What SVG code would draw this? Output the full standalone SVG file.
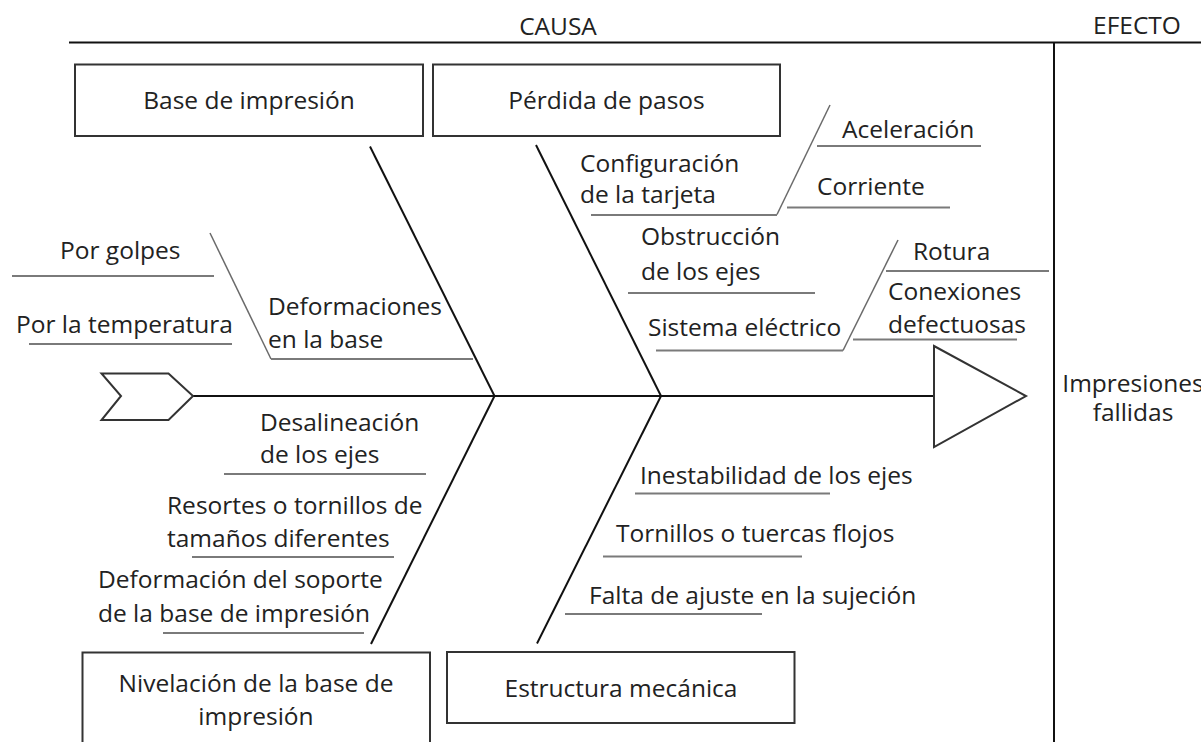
<svg xmlns="http://www.w3.org/2000/svg" width="1201" height="742" viewBox="0 0 1201 742">
<style>
text{font-family:"Open Sans","Noto Sans","DejaVu Sans",sans-serif;font-size:24.5px;fill:#222}
.c{text-anchor:middle}
.box{fill:#fff;stroke:#333;stroke-width:2}
.bone{stroke:#111;stroke-width:2;fill:none}
.sub{stroke:#6a6a6a;stroke-width:1.5;fill:none}
.ul{stroke:#7a7a7a;stroke-width:2;fill:none}
.frame{stroke:#111;stroke-width:2;fill:none}
</style>
<rect width="1201" height="742" fill="#fff"/>
<g id="frame">
<line class="frame" x1="69" y1="42.5" x2="1201" y2="42.5"/>
<line class="frame" x1="1054" y1="42" x2="1054" y2="742"/>
<text class="c" x="558" y="35">CAUSA</text>
<text class="c" x="1137" y="34">EFECTO</text>
</g>
<g id="connectors">
<line class="bone" x1="193" y1="396" x2="934" y2="396"/>
<line class="bone" x1="370" y1="146.5" x2="494.5" y2="396"/>
<line class="bone" x1="536" y1="145" x2="661" y2="396"/>
<line class="bone" x1="494.5" y1="396" x2="371" y2="644"/>
<line class="bone" x1="661" y1="396" x2="537" y2="643.5"/>
<line class="sub" x1="830" y1="105" x2="777" y2="214.5"/>
<line class="sub" x1="898" y1="240" x2="843" y2="350.5"/>
<line class="sub" x1="210" y1="233" x2="271" y2="359"/>
<line class="ul" x1="817" y1="146" x2="981" y2="146"/>
<line class="ul" x1="591" y1="215" x2="777" y2="215"/>
<line class="ul" x1="787" y1="207.5" x2="950" y2="207.5"/>
<line class="ul" x1="628" y1="293" x2="815" y2="293"/>
<line class="ul" x1="656" y1="350.5" x2="843" y2="350.5"/>
<line class="ul" x1="886" y1="271" x2="1049" y2="271"/>
<line class="ul" x1="853" y1="339.5" x2="1017" y2="339.5"/>
<line class="ul" x1="12" y1="276" x2="214" y2="276"/>
<line class="ul" x1="29" y1="344" x2="232" y2="344"/>
<line class="ul" x1="271" y1="359" x2="473" y2="359"/>
<line class="ul" x1="224" y1="474" x2="426" y2="474"/>
<line class="ul" x1="192" y1="557" x2="394" y2="557"/>
<line class="ul" x1="163" y1="633" x2="364" y2="633"/>
<line class="ul" x1="635" y1="493.5" x2="830" y2="493.5"/>
<line class="ul" x1="603" y1="556.5" x2="802" y2="556.5"/>
<line class="ul" x1="565" y1="614" x2="762" y2="614"/>
</g>
<g id="tail"><polygon class="box" points="101.5,373.5 168.5,373.5 193,396 168.5,420 101.5,420 121,396" stroke="#111"/></g>
<g id="head"><polygon class="box" points="934,346 1026,396 934,447" stroke="#111"/></g>
<g id="n-base"><rect class="box" x="75" y="64.5" width="348" height="71.5"/><text class="c" x="249" y="109">Base de impresión</text></g>
<g id="n-perdida"><rect class="box" x="433" y="64.5" width="347" height="71.5"/><text class="c" x="606.5" y="109">Pérdida de pasos</text></g>
<g id="n-nivelacion"><rect class="box" x="82.5" y="652.5" width="347.5" height="100"/><text class="c" x="256" y="692">Nivelación de la base de</text><text class="c" x="256" y="725">impresión</text></g>
<g id="n-estructura"><rect class="box" x="447" y="652" width="347.5" height="71"/><text class="c" x="621" y="697">Estructura mecánica</text></g>
<g id="effect"><text class="c" x="1133" y="392">Impresiones</text><text class="c" x="1133" y="421">fallidas</text></g>
<g id="labels">
<text x="580" y="172">Configuración</text>
<text x="580" y="203">de la tarjeta</text>
<text x="842" y="138">Aceleración</text>
<text x="817" y="195">Corriente</text>
<text x="641" y="245">Obstrucción</text>
<text x="641" y="280">de los ejes</text>
<text x="648" y="336">Sistema eléctrico</text>
<text x="913" y="260">Rotura</text>
<text x="888" y="300">Conexiones</text>
<text x="888" y="333">defectuosas</text>
<text x="60" y="259">Por golpes</text>
<text x="16" y="333">Por la temperatura</text>
<text x="268" y="315">Deformaciones</text>
<text x="268" y="348">en la base</text>
<text x="260" y="431">Desalineación</text>
<text x="260" y="463">de los ejes</text>
<text x="167" y="514">Resortes o tornillos de</text>
<text x="167" y="547">tamaños diferentes</text>
<text x="98" y="588">Deformación del soporte</text>
<text x="98" y="622">de la base de impresión</text>
<text x="640" y="484">Inestabilidad de los ejes</text>
<text x="616" y="542">Tornillos o tuercas flojos</text>
<text x="589" y="604">Falta de ajuste en la sujeción</text>
</g>
</svg>
